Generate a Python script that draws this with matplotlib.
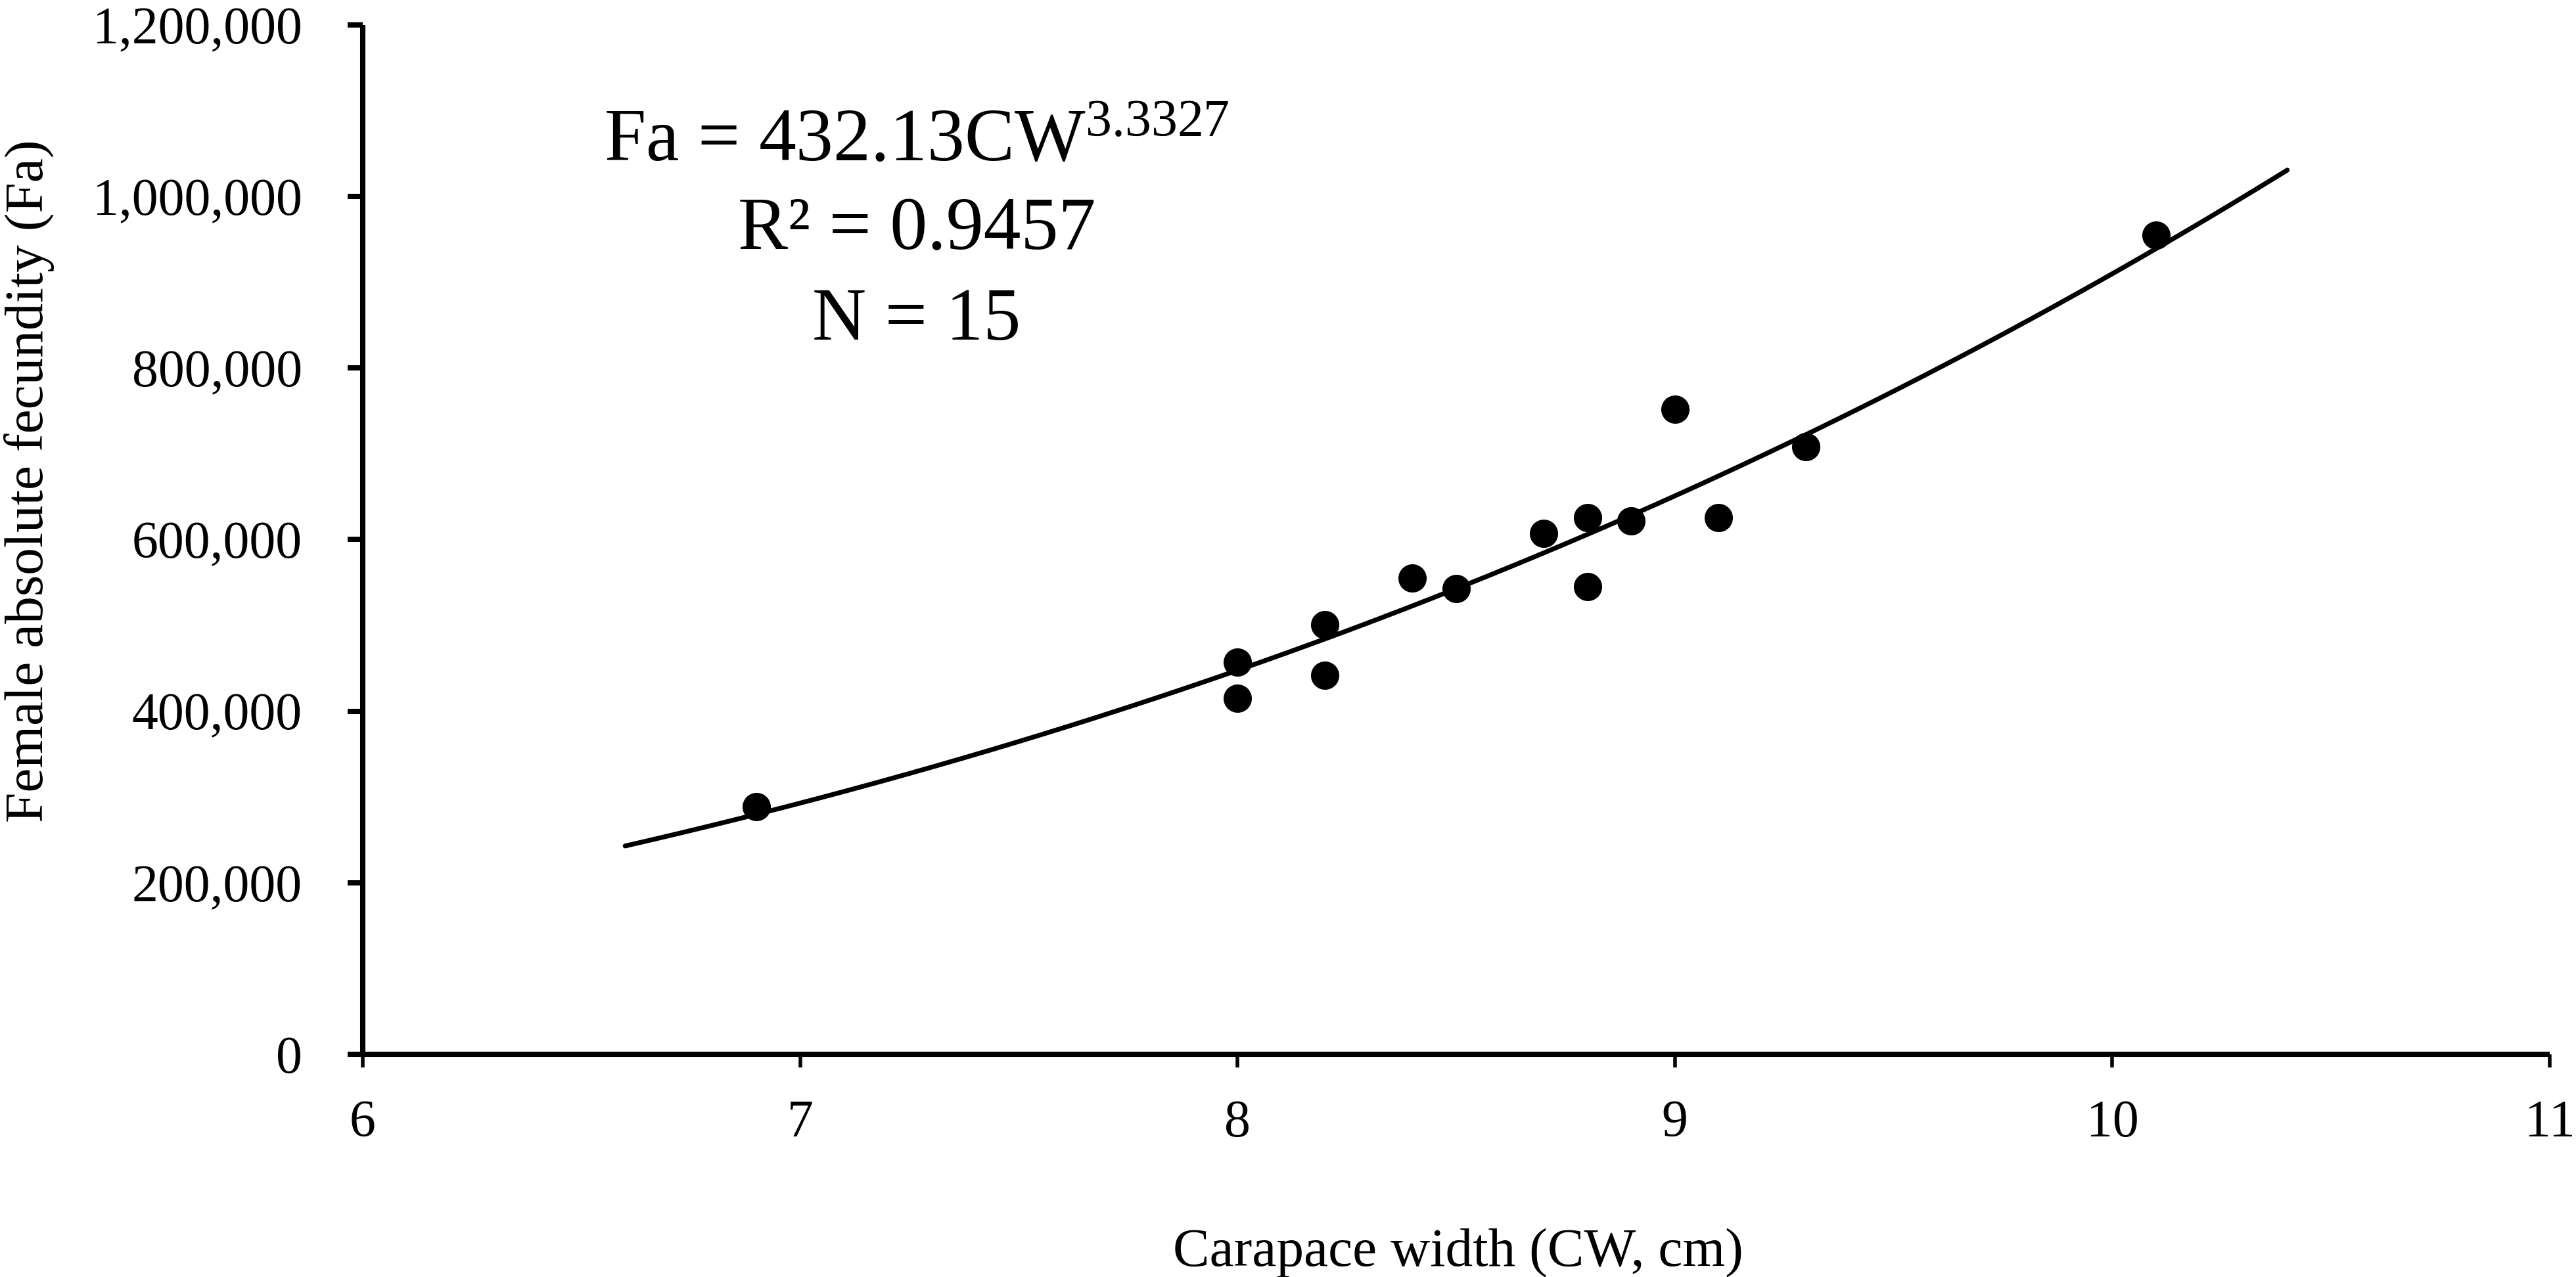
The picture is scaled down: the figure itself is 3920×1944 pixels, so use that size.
import numpy as np
import matplotlib
matplotlib.use("Agg")
import matplotlib.pyplot as plt
from matplotlib.ticker import FuncFormatter

# ---- data ----
carapace_width = [6.9, 8.0, 8.0, 8.2, 8.2, 8.4, 8.5, 8.7, 8.8, 8.8, 8.9, 9.0, 9.1, 9.3, 10.1]
fecundity = [289000, 457000, 415000, 501000, 442000, 555000, 543000, 607000,
             626000, 545000, 622000, 752000, 626000, 708000, 955000]
x_ticks = [6, 7, 8, 9, 10, 11]
y_ticks = [0, 200000, 400000, 600000, 800000, 1000000, 1200000]
trend_range = [6.6, 10.4]
eq_lines = [r"Fa = 432.13CW$^{\mathrm{3.3327}}$", "R² = 0.9457", "N = 15"]
x_label = "Carapace width (CW, cm)"
y_label = "Female absolute fecundity (Fa)"

plt.rcParams['font.family'] = ['Liberation Serif', 'DejaVu Serif']
plt.rcParams['mathtext.fontset'] = 'custom'
plt.rcParams['mathtext.rm'] = 'Liberation Serif'
plt.rcParams['mathtext.it'] = 'Liberation Serif:italic'
plt.rcParams['mathtext.bf'] = 'Liberation Serif:bold'

W, H = 3920, 1944
fig = plt.figure(figsize=(W / 100, H / 100), dpi=100)
ax = fig.add_axes([552 / W, 1 - 1605 / H, (3880 - 552) / W, (1605 - 38) / H])

# power-law trendline fitted in log-log space (as a spreadsheet trendline does)
lx = np.log(np.array(carapace_width))
ly = np.log(np.array(fecundity))
b, a = np.polyfit(lx, ly, 1)
xs = np.linspace(trend_range[0], trend_range[1], 300)
ax.plot(xs, np.exp(a) * xs ** b, color='black', lw=5.2, solid_capstyle='round', zorder=2)

ax.plot(carapace_width, fecundity, 'o', color='black', markersize=30, zorder=3)

ax.set_xlim(x_ticks[0], x_ticks[-1])
ax.set_ylim(y_ticks[0], y_ticks[-1])
ax.set_xticks(x_ticks)
ax.set_yticks(y_ticks)
ax.yaxis.set_major_formatter(FuncFormatter(lambda v, p: f"{int(v):,}"))

for s in ['top', 'right']:
    ax.spines[s].set_visible(False)
for s in ['left', 'bottom']:
    ax.spines[s].set_linewidth(5.8)
    ax.spines[s].set_capstyle('butt')

ax.tick_params(axis='y', direction='out', length=16.5, width=5.8, pad=50, labelsize=57.5)
ax.tick_params(axis='x', direction='out', length=14.5, width=4.0, pad=35, labelsize=57.5)

ax.set_xlabel(x_label, fontsize=60, va='baseline')
ax.xaxis.set_label_coords(2219 / W, 1 - 1927 / H, transform=fig.transFigure)
ax.set_ylabel(y_label, fontsize=60, va='center')
ax.yaxis.set_label_coords(45 / W, 1 - 732 / H, transform=fig.transFigure)

eq_y = [245, 379, 517]
for txt, yb in zip(eq_lines, eq_y):
    fig.text(1395 / W, 1 - yb / H, txt, fontsize=82, ha='center', va='baseline')

fig.savefig("out.png", dpi=100, facecolor='white')
